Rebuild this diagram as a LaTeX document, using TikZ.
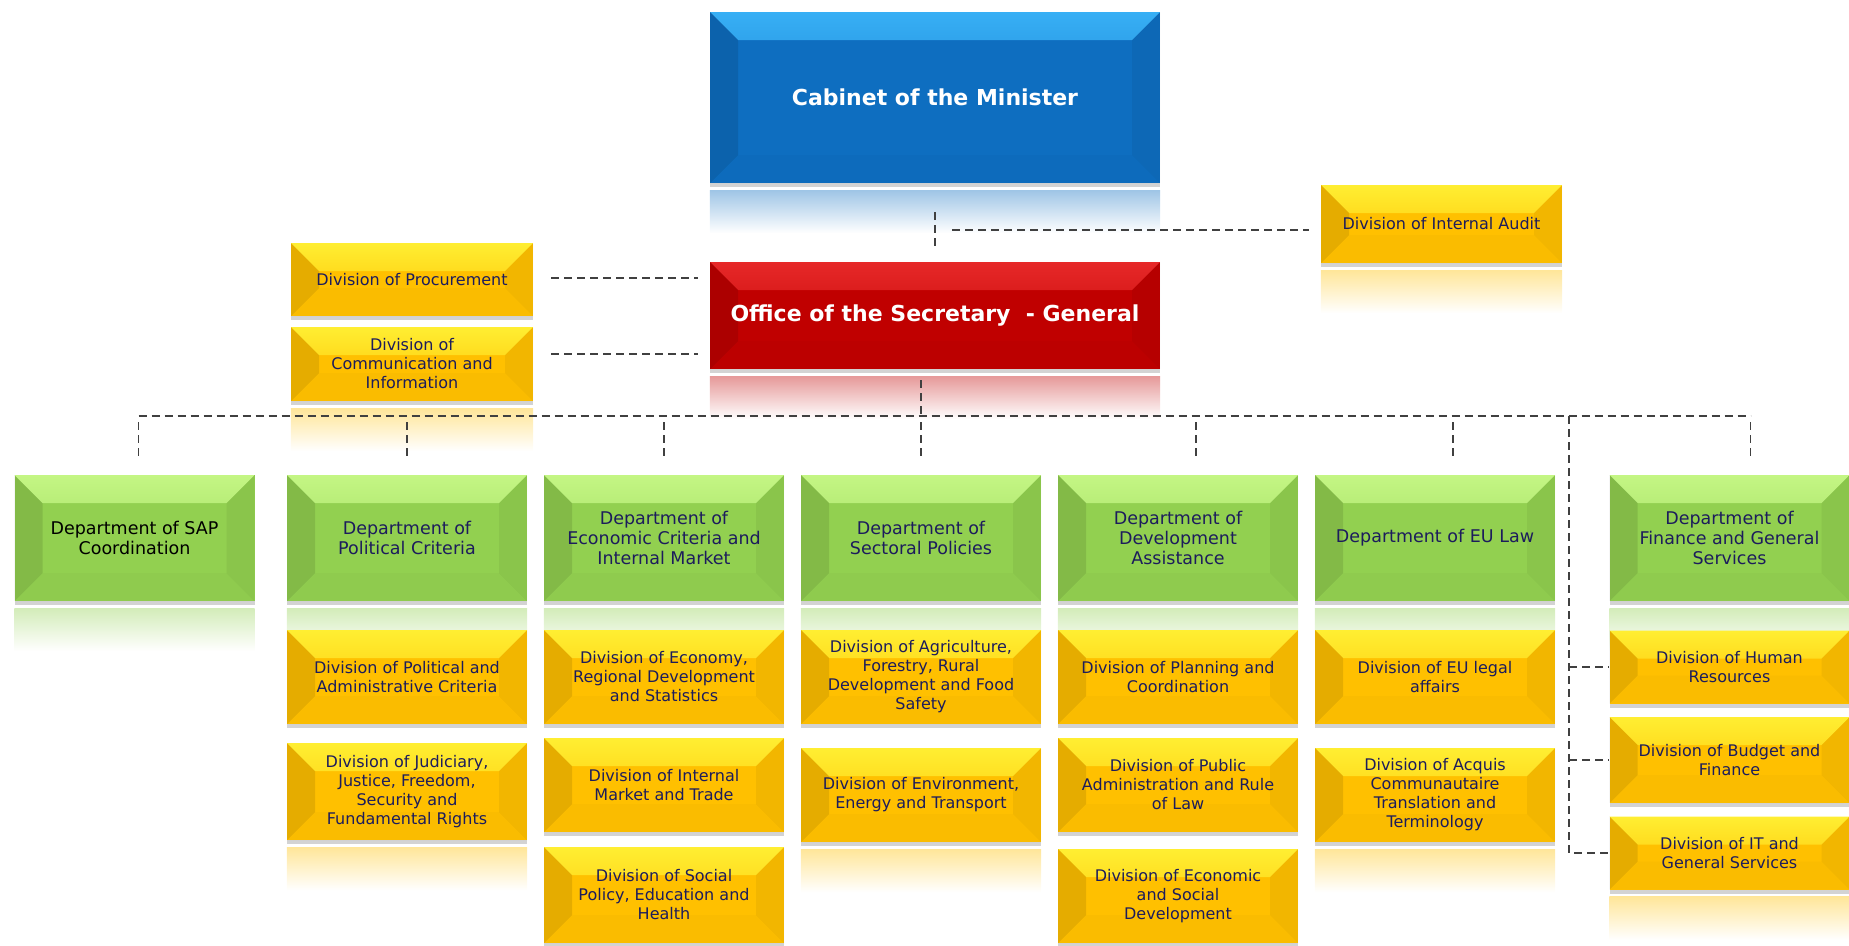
\documentclass[tikz,border=0pt]{standalone}
\usepackage{fontspec}
\setmainfont{DejaVu Sans}
\usepackage{tikz}
\usetikzlibrary{shadows, backgrounds}

\definecolor{navy}{RGB}{28,28,92}
\definecolor{blueBase}{RGB}{14,110,192}
\definecolor{blueLight}{RGB}{55,175,245}
\definecolor{redBase}{RGB}{192,0,0}
\definecolor{redLight}{RGB}{230,40,40}
\definecolor{greenBase}{RGB}{146,208,80}
\definecolor{greenLight}{RGB}{196,246,132}
\definecolor{yellowBase}{RGB}{255,192,0}
\definecolor{yellowLight}{RGB}{255,238,50}

\newcommand{\headfont}{\fontsize{22}{26}\selectfont\bfseries}
\newcommand{\deptfont}{\fontsize{17.5}{20}\selectfont}
\newcommand{\divfont}{\fontsize{16}{19}\selectfont}

\begin{document}
\begin{tikzpicture}[x=1pt, y=-1pt]
  \pgfmathsetmacro{\bv}{28}
  \tikzset{
    bevel/.style 2 args={fill=#1, path picture={
        \shade[top color=#2, bottom color=#1]
          (path picture bounding box.north west) -- (path picture bounding box.north east)
          -- ([shift={(-\bv pt,-\bv pt)}]path picture bounding box.north east)
          -- ([shift={(\bv pt,-\bv pt)}]path picture bounding box.north west) -- cycle;
        \fill[black, opacity=.10]
          (path picture bounding box.north west) -- ([shift={(\bv pt,-\bv pt)}]path picture bounding box.north west)
          -- ([shift={(\bv pt,\bv pt)}]path picture bounding box.south west) -- (path picture bounding box.south west) -- cycle;
        \fill[black, opacity=.05]
          (path picture bounding box.north east) -- ([shift={(-\bv pt,-\bv pt)}]path picture bounding box.north east)
          -- ([shift={(-\bv pt,\bv pt)}]path picture bounding box.south east) -- (path picture bounding box.south east) -- cycle;
        \fill[black, opacity=.02]
          (path picture bounding box.south west) -- ([shift={(\bv pt,\bv pt)}]path picture bounding box.south west)
          -- ([shift={(-\bv pt,\bv pt)}]path picture bounding box.south east) -- (path picture bounding box.south east) -- cycle;
      }},
    box/.style={rectangle, inner sep=3pt, align=center,
      drop shadow={shadow xshift=0pt, shadow yshift=-4pt, opacity=.35}},
    cabbox/.style={box, bevel={blueBase}{blueLight}, text=white, font=\headfont,
      minimum width=450pt, minimum height=171pt},
    secbox/.style={box, bevel={redBase}{redLight}, text=white, font=\headfont,
      minimum width=450pt, minimum height=107pt},
    deptbox/.style={box, bevel={greenBase}{greenLight}, text=navy, font=\deptfont,
      minimum width=240pt, minimum height=126pt},
    divbox/.style={box, bevel={yellowBase}{yellowLight}, text=navy, font=\divfont,
      minimum width=240pt},
    link/.style={draw=black!75, line width=1.6pt, dash pattern=on 8pt off 5pt},
  }
  \useasboundingbox (0,0) rectangle (1849,945);

  % top of the chart
  \node (cab) [cabbox] at (935,97.5) {Cabinet of the Minister};
  \node (sec) [secbox] at (935,315.5) {Office of the Secretary~ - General};
  \node (aud) [divbox, minimum width=241pt, minimum height=78pt] at (1441.5,224) {Division of Internal Audit};
  \node (proc) [divbox, minimum width=242pt, minimum height=73pt] at (412,279.5) {Division of Procurement};
  \node (comm) [divbox, minimum width=242pt, minimum height=74pt] at (412,364) {Division of\\Communication and\\Information};

  % departments
  \node (d1) [deptbox, text=black] at (134.5,538) {Department of SAP\\Coordination};
  \node (d2) [deptbox] at (407,538) {Department of\\Political Criteria};
  \node (d3) [deptbox] at (664,538) {Department of\\Economic Criteria and\\Internal Market};
  \node (d4) [deptbox] at (921,538) {Department of\\Sectoral Policies};
  \node (d5) [deptbox] at (1178,538) {Department of\\Development\\Assistance};
  \node (d6) [deptbox] at (1435,538) {Department of EU Law};
  \node (d7) [deptbox] at (1729.5,538) {Department of\\Finance and General\\Services};

  % divisions
  \node (p1) [divbox, minimum height=94pt] at (407,677) {Division of Political and\\Administrative Criteria};
  \node (p2) [divbox, minimum height=97pt] at (407,791.5) {Division of Judiciary,\\Justice, Freedom,\\Security and\\Fundamental Rights};
  \node (e1) [divbox, minimum height=94pt] at (664,677) {Division of Economy,\\Regional Development\\and Statistics};
  \node (e2) [divbox, minimum height=94pt] at (664,785) {Division of Internal\\Market and Trade};
  \node (e3) [divbox, minimum height=96pt] at (664,895) {Division of Social\\Policy, Education and\\Health};
  \node (s1) [divbox, minimum height=94pt] at (921,677) {Division of Agriculture,\\Forestry, Rural\\Development and Food\\Safety};
  \node (s2) [divbox, minimum height=94pt] at (921,795) {Division of Environment,\\Energy and Transport};
  \node (a1) [divbox, minimum height=94pt] at (1178,677) {Division of Planning and\\Coordination};
  \node (a2) [divbox, minimum height=94pt] at (1178,785) {Division of Public\\Administration and Rule\\of Law};
  \node (a3) [divbox, minimum height=94pt] at (1178,896) {Division of Economic\\and Social\\Development};
  \node (l1) [divbox, minimum height=94pt] at (1435,677) {Division of EU legal\\affairs};
  \node (l2) [divbox, minimum height=94pt] at (1435,795) {Division of Acquis\\Communautaire\\Translation and\\Terminology};
  \node (f1) [divbox, minimum height=73pt] at (1729.5,667) {Division of Human\\Resources};
  \node (f2) [divbox, minimum height=86pt] at (1729.5,760) {Division of Budget and\\Finance};
  \node (f3) [divbox, minimum height=73pt] at (1729.5,853) {Division of IT and\\General Services};

  % reflections under the boxes
  \begin{pgfonlayer}{background}
    \foreach \nm/\cl in {cab/blueBase, sec/redBase, aud/yellowBase, comm/yellowBase,
        d1/greenBase, d2/greenBase, d3/greenBase, d4/greenBase, d5/greenBase, d6/greenBase, d7/greenBase,
        p2/yellowBase, e3/yellowBase, s2/yellowBase, a3/yellowBase, l2/yellowBase, f3/yellowBase}
      \shade[top color=\cl!40, bottom color=white] ([yshift=-7pt]\nm.south west) rectangle ([yshift=-50pt]\nm.south east);
  \end{pgfonlayer}

  % dashed connectors
  \draw[link] ([yshift=-29pt]cab.south) -- ([yshift=14pt]sec.north);
  \draw[link] ([xshift=17pt,yshift=-6pt]cab.south |- aud.west) -- ([xshift=-12pt,yshift=-6pt]aud.west);
  \draw[link] ([xshift=18pt,yshift=1.5pt]proc.east) -- ([xshift=-12pt,yshift=1.5pt]sec.west |- proc.east);
  \draw[link] ([xshift=18pt,yshift=10pt]comm.east) -- ([xshift=-12pt,yshift=10pt]sec.west |- comm.east);

  \coordinate (bus) at (921,416);
  \coordinate (fin) at (1569,416);
  \draw[link] ([xshift=-14pt,yshift=-11pt]sec.south) -- (bus);
  \draw[link] ([xshift=4pt]bus -| d1.north) -- ([xshift=21pt]bus -| d7.north);
  \foreach \i/\dx in {1/4, 2/0, 3/0, 4/0, 5/18, 6/18, 7/21} {
    \draw[link] ([xshift=\dx pt,yshift=-6pt]bus -| d\i.north) -- ([xshift=\dx pt,yshift=15pt]d\i.north);
  }
  \draw[link] (fin) |- (f3.west);
  \draw[link] (fin |- f1.west) -- (f1.west);
  \draw[link] (fin |- f2.west) -- (f2.west);

\end{tikzpicture}
\end{document}
